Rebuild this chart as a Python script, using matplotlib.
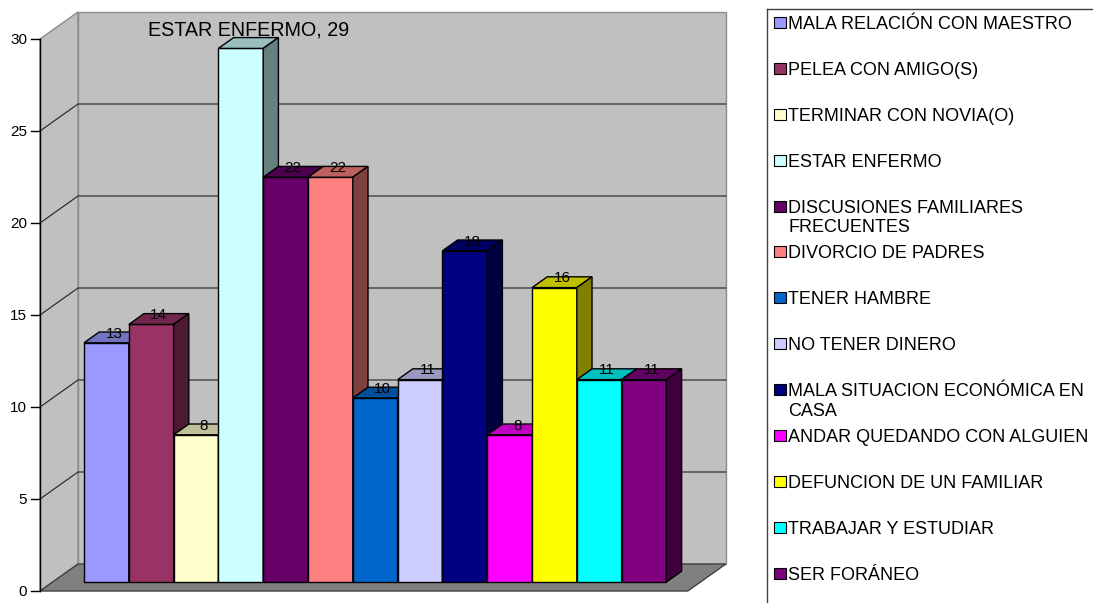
import numpy as np
import matplotlib.pyplot as plt
import matplotlib.colors as mcolors
from matplotlib.lines import Line2D
from matplotlib.patches import Rectangle

plt.rcParams['font.family'] = ['Liberation Sans', 'DejaVu Sans']

# ======================
# DATA
# ======================
categories = [
    "MALA RELACIÓN CON MAESTRO",
    "PELEA CON AMIGO(S)",
    "TERMINAR CON NOVIA(O)",
    "ESTAR ENFERMO",
    "DISCUSIONES FAMILIARES\nFRECUENTES",
    "DIVORCIO DE PADRES",
    "TENER HAMBRE",
    "NO TENER DINERO",
    "MALA SITUACION ECONÓMICA EN\nCASA",
    "ANDAR QUEDANDO CON ALGUIEN",
    "DEFUNCION DE UN FAMILIAR",
    "TRABAJAR Y ESTUDIAR",
    "SER FORÁNEO",
]
values = [13, 14, 8, 29, 22, 22, 10, 11, 18, 8, 16, 11, 11]
colors = ["#9999FF", "#993366", "#FFFFCC", "#CCFFFF", "#660066", "#FF8080",
          "#0066CC", "#CCCCFF", "#000080", "#FF00FF", "#FFFF00", "#00FFFF",
          "#800080"]
yticks = [0, 5, 10, 15, 20, 25, 30]
big_label_idx = 3  # label shown with series name

# ======================
# GEOMETRY (pixel scale of the reference)
# ======================
W_PX, H_PX = 1093, 603
UX, UY = 44.8, 18.4          # px per x unit / per value unit
OX, OY = 40, 591             # origin pixel (from top)
DX, DY = 38 / UX, 27 / UY    # full depth offset in data units
D0, DD = 0.333, 0.40         # bar front depth / bar depth
X0 = 0.70                    # first bar offset on front plane
FLOOR_W = 14.46
YMAX = 30

fig = plt.figure(figsize=(W_PX / 100, H_PX / 100), dpi=100)
xlim = (-0.5, 15.5)
ylim = (-0.5, 32.0)
ax = fig.add_axes([(OX + xlim[0] * UX) / W_PX,
                   (H_PX - OY + ylim[0] * UY) / H_PX,
                   (xlim[1] - xlim[0]) * UX / W_PX,
                   (ylim[1] - ylim[0]) * UY / H_PX])
ax.set_xlim(xlim)
ax.set_ylim(ylim)
ax.axis('off')


def shade(c, f):
    r, g, b = mcolors.to_rgb(c)
    return (r * f, g * f, b * f)


# walls and floor
ax.fill([DX, DX + FLOOR_W, DX + FLOOR_W, DX], [DY, DY, YMAX + DY, YMAX + DY],
        fc='#C0C0C0', ec='#8C8C8C', lw=1, zorder=0)
ax.fill([0, DX, DX, 0], [0, DY, YMAX + DY, YMAX],
        fc='#C0C0C0', ec='#8C8C8C', lw=1, zorder=0)
ax.fill([0, FLOOR_W, FLOOR_W + DX, DX], [0, 0, DY, DY],
        fc='#808080', ec='#404040', lw=1, zorder=0.5)

for t in yticks[1:-1]:
    ax.plot([0, DX, DX + FLOOR_W], [t, t + DY, t + DY],
            color='#202020', lw=0.8, zorder=1)

# value axis
ax.plot([0, 0], [0, YMAX], color='black', lw=1, zorder=2)
for t in yticks:
    ax.plot([-0.2, 0], [t, t], color='black', lw=1, zorder=2)
    ax.text(-0.29, t - 5.5 / UY, str(t), ha='right', va='baseline',
            fontsize=11, zorder=2)

# bars
n = len(values)
bar_left = X0 + np.arange(n) + D0 * DX
bars = ax.bar(bar_left, values, width=1, bottom=D0 * DY, align='edge',
              color=colors, edgecolor='black', lw=1)

for i, (p, v, c) in enumerate(zip(bars, values, colors)):
    z = 3 + i * 0.1
    p.set_zorder(z)
    x0 = bar_left[i]
    x1 = x0 + 1
    yb = D0 * DY
    yt = v + D0 * DY
    ax.fill([x0, x1, x1 + DD * DX, x0 + DD * DX],
            [yt, yt, yt + DD * DY, yt + DD * DY],
            fc=shade(c, 0.75), ec='black', lw=1, zorder=z + 0.01)
    ax.fill([x1, x1 + DD * DX, x1 + DD * DX, x1],
            [yb, yb + DD * DY, yt + DD * DY, yt],
            fc=shade(c, 0.5), ec='black', lw=1, zorder=z + 0.01)

    lx = x0 + 0.5 + 0.5 * DD * DX
    ly = yt + DD * DY
    if i == big_label_idx:
        ax.text(lx, ly + 0.47 - 7.0 / UY, f"{categories[i]}, {v}",
                ha='center', va='baseline', fontsize=14.2, zorder=10)
    else:
        ax.text(lx, ly - 5.5 / UY, str(v), ha='center', va='baseline',
                fontsize=11, zorder=10)

# ======================
# LEGEND (drawn in pixel positions)
# ======================
def fx(px):
    return px / W_PX


def fy(py):
    return 1 - py / H_PX


fig.add_artist(Line2D([fx(767), fx(767)], [fy(9), fy(603)],
                      color='#404040', lw=1))
fig.add_artist(Line2D([fx(767), fx(1093)], [fy(9), fy(9)],
                      color='#404040', lw=1))

LEG_Y0, LEG_STEP, LINE_STEP = 22.5, 45.88, 19.7
for i, (lab, c) in enumerate(zip(categories, colors)):
    yc = LEG_Y0 + LEG_STEP * i
    fig.add_artist(Rectangle((fx(773.5), fy(yc + 5.5)), 12 / W_PX, 11 / H_PX,
                             transform=fig.transFigure, fc=c, ec='black', lw=0.8))
    for j, line in enumerate(lab.split("\n")):
        fig.text(fx(788.5), fy(yc + 6.5 + j * LINE_STEP), line,
                 ha='left', va='baseline', fontsize=13)

fig.savefig("out.png", dpi=100)
